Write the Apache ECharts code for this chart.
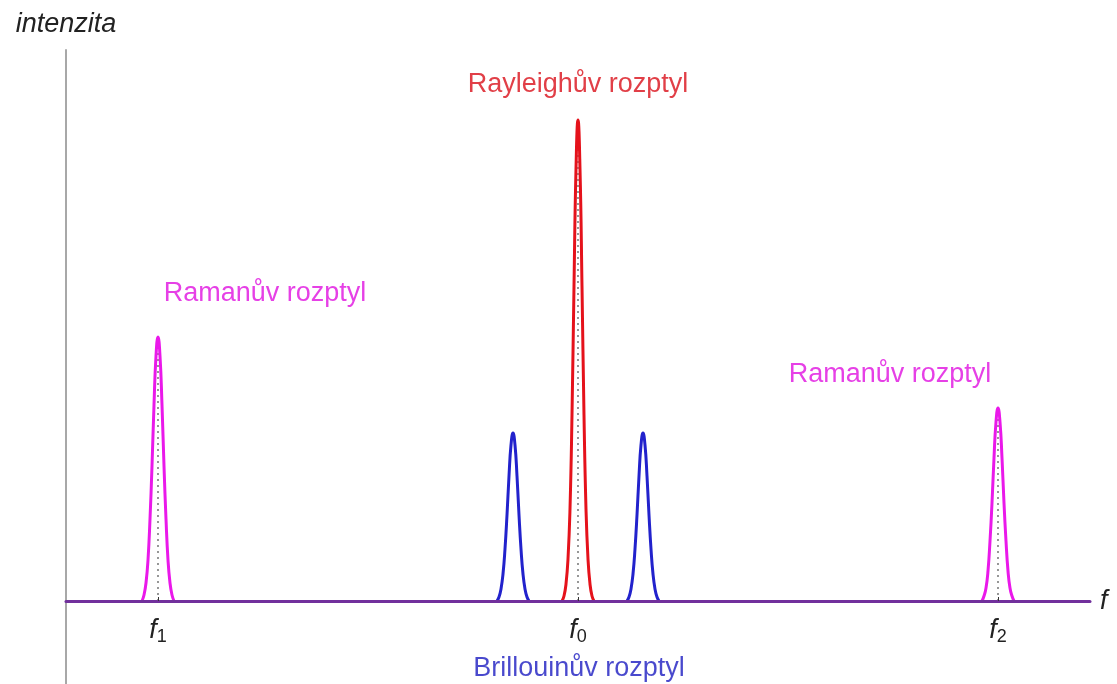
<!DOCTYPE html>
<html>
<head>
<meta charset="utf-8">
<style>
  html, body { margin: 0; padding: 0; background: #fff; }
  #chart { width: 1117px; height: 684px; }
</style>
<script src="https://cdn.jsdelivr.net/npm/echarts@6/dist/echarts.min.js"></script>
</head>
<body>
<div id="chart"></div>
<script>
// frekvence (f0 = 0)
const tickValues = [-420, 0, 420];
const tickNames = ["1", "0", "2"];

// tvary píků [f, intenzita]
const ramanLeft = [[-436, 0], [-434, 6], [-432, 18], [-430, 41], [-428, 82], [-426, 135], [-424, 196], [-422, 245], [-420, 264], [-418, 245], [-416, 196], [-414, 135], [-412, 82], [-410, 41], [-408, 18], [-406, 6], [-404, 0]];
const brillouinLeft = [[-81, 0], [-79, 4], [-77, 12], [-75, 27], [-73, 52], [-71, 86], [-69, 125], [-67, 156], [-65, 168], [-63, 156], [-61, 125], [-59, 86], [-57, 52], [-55, 27], [-53, 12], [-51, 4], [-49, 0]];
const rayleigh = [[-16, 0], [-14, 5], [-12, 17], [-10, 42], [-8, 92], [-6, 186], [-4, 315], [-2, 432], [0, 481], [2, 432], [4, 315], [6, 186], [8, 92], [10, 42], [12, 17], [14, 5], [16, 0]];
const brillouinRight = [[49, 0], [51, 4], [53, 12], [55, 27], [57, 52], [59, 86], [61, 125], [63, 156], [65, 168], [67, 156], [69, 125], [71, 86], [73, 52], [75, 27], [77, 12], [79, 4], [81, 0]];
const ramanRight = [[404, 0], [406, 5], [408, 13], [410, 30], [412, 60], [414, 98], [416, 143], [418, 179], [420, 193], [422, 179], [424, 143], [426, 98], [428, 60], [430, 30], [432, 13], [434, 5], [436, 0]];

// tečkované čáry pod píky
const dashX = [-420, 0, 420];
const dashTop = [258, 474, 187];

// popisky
const noteTexts = ["Rayleighův rozptyl", "Ramanův rozptyl", "Ramanův rozptyl", "Brillouinův rozptyl"];
const noteX = [0, -313, 312, 1];
const noteY = [516, 307, 226, -68];

const RED = "#e5121b";
const MAGENTA = "#ea18ea";
const BLUE = "#2222cc";
const noteColors = ["#d90f19", "#e010e0", "#e010e0", "#1c1cc0"];
const FONT = "Liberation Sans";

function peak(data, color) {
  return {
    type: "line",
    data: data,
    smooth: true,
    symbol: "none",
    lineStyle: { color: color, width: 3 },
    silent: true
  };
}

let series = [
  peak(ramanLeft, MAGENTA),
  peak(brillouinLeft, BLUE),
  peak(rayleigh, RED),
  peak(brillouinRight, BLUE),
  peak(ramanRight, MAGENTA)
];

for (let i = 0; i < dashX.length; i++) {
  series.push({
    type: "line",
    data: [[dashX[i], 0], [dashX[i], dashTop[i]]],
    symbol: "none",
    lineStyle: { color: "#8c8c8c", width: 1.8, type: [2, 4] },
    z: 1,
    silent: true
  });
}

series.push({
  type: "scatter",
  symbolSize: 0,
  silent: true,
  clip: false,
  data: noteTexts.map((t, i) => ({
    name: t,
    value: [noteX[i], noteY[i]],
    label: { color: noteColors[i] }
  })),
  label: {
    show: true,
    position: "inside",
    formatter: "{b}",
    fontFamily: FONT,
    fontSize: 27,
    align: "center",
    verticalAlign: "middle"
  }
});

let chart = echarts.init(document.getElementById("chart"));
chart.setOption({
  animation: false,
  grid: [
    { left: 66, right: 27, top: 50, bottom: 83, outerBoundsMode: "none", containLabel: false },
    { left: 66, right: 27, top: 601, bottom: 0, outerBoundsMode: "none", containLabel: false }
  ],
  xAxis: [{
    type: "value",
    gridIndex: 0,
    min: -512,
    max: 512,
    z: 5,
    name: "f",
    nameLocation: "end",
    nameGap: 10,
    nameTextStyle: { fontFamily: FONT, fontStyle: "italic", fontSize: 27, color: "#222" },
    axisLine: { lineStyle: { color: "#71309c", width: 3 } },
    axisTick: { show: true, inside: true, length: 4, customValues: tickValues, lineStyle: { color: "#333", width: 1 } },
    splitLine: { show: false },
    axisLabel: {
      customValues: tickValues,
      margin: 13,
      formatter: function (v) {
        return "{a|f}{b|" + tickNames[tickValues.indexOf(v)] + "}";
      },
      rich: {
        a: { fontFamily: FONT, fontStyle: "italic", fontSize: 27, color: "#222" },
        b: { fontFamily: FONT, fontSize: 18, color: "#222", padding: [14, 0, 0, 0] }
      }
    }
  }, {
    type: "value",
    gridIndex: 1,
    show: false,
    min: -512,
    max: 512
  }],
  yAxis: [{
    type: "value",
    gridIndex: 0,
    min: 0,
    max: 551,
    name: "intenzita",
    nameLocation: "end",
    nameGap: 12,
    nameTextStyle: { fontFamily: FONT, fontStyle: "italic", fontSize: 27, color: "#222", align: "center" },
    axisLine: { show: true, onZero: false, lineStyle: { color: "#a8a8a8", width: 2 } },
    axisTick: { show: false },
    axisLabel: { show: false },
    splitLine: { show: false }
  }, {
    type: "value",
    gridIndex: 1,
    min: 0,
    max: 1,
    axisLine: { show: true, onZero: false, lineStyle: { color: "#a8a8a8", width: 2 } },
    axisTick: { show: false },
    axisLabel: { show: false },
    splitLine: { show: false }
  }],
  series: series
});
</script>
</body>
</html>
